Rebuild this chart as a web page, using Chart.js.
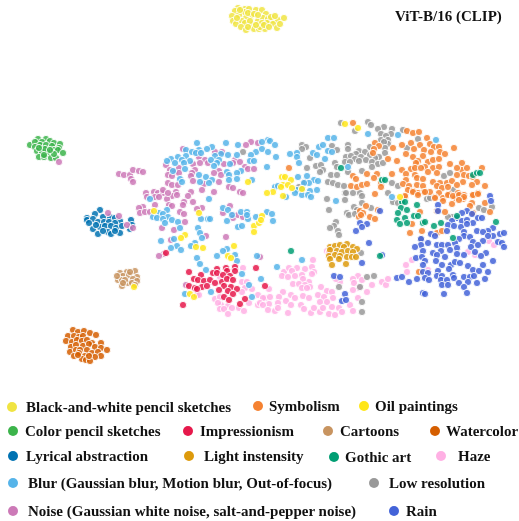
<!DOCTYPE html>
<html>
<head>
<meta charset="utf-8">
<script src="https://cdn.jsdelivr.net/npm/chart.js@4"></script>
<style>
  html, body { margin: 0; padding: 0; background: #fff; }
  #wrap { position: relative; width: 519px; height: 521px; overflow: hidden; font-family: "Liberation Serif", serif; font-weight: bold; color: #111; }
  #chart { position: absolute; left: 0; top: 0; }
  .txt { position: absolute; white-space: nowrap; font-size: 15px; line-height: 16px; }
  .dot { position: absolute; width: 10px; height: 10px; border-radius: 50%; }
  #title { position: absolute; left: 395px; top: 8px; font-size: 15px; line-height: 16px; white-space: nowrap; }
</style>
</head>
<body>
<div id="wrap">
  <canvas id="chart" width="519" height="521"></canvas>
  <div id="title">ViT-B/16 (CLIP)</div>
</div>
<script>
const titleText = "ViT-B/16 (CLIP)"

const bwPencil = [[238,8],[245,9],[249,9],[235,11],[244,12],[256,10],[232,16],[239,15],[251,16],[246,18],[258,21],[233,21],[236,24],[242,21],[252,25],[245,23],[241,27],[246,30],[254,29],[259,29],[262,10],[266,14],[263,18],[268,19],[273,20],[278,20],[284,18],[267,23],[273,24],[277,28],[265,29],[260,27],[280,24],[262,23],[240,10],[237,18],[248,13],[254,14],[258,15],[250,21],[256,25],[271,17],[275,16],[264,25],[269,27],[248,27]]
const colorPencil = [[38,139],[46,139],[50,141],[54,143],[60,144],[30,145],[35,142],[42,142],[40,145],[46,145],[52,146],[59,148],[35,147],[37,151],[42,152],[48,152],[54,150],[58,150],[63,153],[39,157],[44,157],[51,158],[56,158],[54,154],[45,149],[50,150],[39,148],[44,155]]
const lyrical = [[100,210],[95,214],[87,218],[87,220],[93,219],[103,217],[110,217],[115,218],[120,221],[131,220],[89,223],[98,222],[104,222],[109,222],[115,223],[100,227],[93,229],[105,226],[111,226],[116,228],[108,232],[98,234],[111,234],[120,233],[115,231],[132,225],[130,229],[103,231],[96,225],[122,226]]
const cartoons = [[135,271],[127,272],[120,273],[123,276],[129,275],[137,277],[118,280],[122,280],[133,279],[137,281],[128,283],[122,286],[117,276],[125,280],[132,283],[135,285],[123,283],[130,272]]
const watercolor = [[73,330],[78,332],[84,331],[90,333],[96,335],[68,336],[74,336],[79,337],[83,336],[66,341],[72,342],[77,340],[82,341],[87,340],[92,343],[101,343],[71,347],[76,345],[83,346],[89,344],[95,347],[101,348],[107,350],[70,352],[76,350],[80,350],[87,350],[92,353],[74,356],[79,353],[85,356],[98,352],[101,356],[95,357],[82,359],[86,360],[90,361],[78,355],[89,356]]
const blur = [[197,143],[226,143],[238,145],[212,147],[207,149],[186,150],[199,150],[192,152],[196,153],[201,153],[221,154],[215,156],[186,156],[178,157],[228,155],[237,155],[256,152],[251,155],[171,159],[167,161],[182,160],[190,161],[211,160],[219,160],[175,163],[184,163],[217,163],[214,166],[230,164],[250,161],[254,161],[185,169],[173,171],[227,172],[241,171],[237,173],[199,175],[206,177],[229,175],[180,179],[212,180],[229,180],[237,179],[252,180],[182,182],[200,182],[209,183],[268,140],[262,142],[270,141],[275,145],[262,149],[268,152],[276,157],[267,167],[290,154],[297,153],[297,157],[299,163],[313,153],[317,155],[319,147],[323,145],[328,138],[334,138],[328,151],[332,152],[325,159],[348,167],[368,134],[398,135],[436,140],[298,177],[307,176],[314,180],[318,181],[309,183],[304,183],[275,187],[278,186],[297,190],[302,189],[310,191],[317,190],[295,193],[302,195],[308,195],[311,197],[286,197],[392,197],[150,199],[209,199],[167,210],[223,208],[228,210],[241,212],[247,212],[159,213],[163,214],[153,217],[157,218],[168,217],[172,220],[163,219],[165,223],[178,222],[201,219],[208,219],[210,219],[227,221],[232,215],[248,219],[256,217],[247,215],[180,228],[198,228],[238,227],[242,226],[200,233],[202,238],[174,239],[161,241],[177,246],[171,248],[181,250],[195,243],[191,246],[197,258],[200,264],[227,249],[223,251],[235,255],[217,256],[237,261],[257,256],[206,270],[242,274],[249,285],[185,294],[211,292],[252,297],[261,279],[267,212],[272,214],[273,221],[336,201],[277,267],[302,260]]
const noise = [[183,149],[215,152],[222,152],[251,142],[258,143],[246,145],[199,157],[205,160],[200,163],[208,163],[224,164],[235,160],[240,162],[233,163],[166,165],[193,164],[245,167],[248,169],[254,169],[170,170],[175,172],[179,168],[179,173],[195,170],[192,173],[191,176],[219,171],[214,173],[221,175],[168,175],[172,176],[193,181],[204,184],[219,182],[119,174],[124,175],[130,175],[133,170],[139,171],[143,172],[131,179],[133,182],[59,162],[168,183],[172,185],[178,185],[229,187],[233,188],[240,192],[243,193],[202,190],[214,192],[191,192],[188,196],[146,193],[154,192],[158,193],[163,193],[163,190],[176,192],[172,196],[177,195],[167,199],[155,197],[159,197],[147,197],[168,193],[155,205],[143,207],[139,208],[140,213],[145,212],[150,212],[169,205],[172,206],[184,202],[183,205],[193,202],[202,208],[197,209],[180,212],[184,214],[230,206],[223,213],[233,215],[233,218],[238,215],[243,217],[108,213],[119,216],[127,225],[133,228],[185,222],[174,230],[162,228],[226,237],[171,240],[206,236],[164,254],[159,256],[186,285],[197,295],[260,257]]
const symbolism = [[353,123],[407,131],[413,133],[419,132],[427,138],[375,143],[379,146],[374,149],[373,153],[393,148],[402,145],[411,143],[420,145],[430,144],[434,147],[439,147],[454,148],[414,149],[424,150],[406,154],[431,152],[440,152],[445,154],[413,157],[423,156],[388,159],[397,161],[418,161],[428,162],[433,160],[439,159],[416,163],[425,167],[433,168],[439,167],[450,164],[462,163],[289,168],[402,170],[411,169],[415,168],[421,168],[406,174],[415,175],[428,172],[437,173],[462,170],[457,168],[467,168],[482,168],[353,176],[367,174],[377,174],[392,174],[356,179],[374,178],[457,175],[464,175],[469,176],[406,180],[417,178],[423,179],[433,182],[440,183],[447,183],[452,181],[463,182],[473,177],[477,182],[351,186],[357,187],[362,185],[367,184],[381,183],[381,187],[403,184],[409,186],[417,185],[423,186],[437,186],[442,188],[448,187],[457,185],[472,185],[485,186],[408,190],[413,191],[418,193],[424,192],[430,192],[439,193],[449,194],[458,193],[464,195],[473,195],[478,193],[375,194],[405,197],[435,197],[443,198],[455,198],[463,199],[405,196],[413,192],[425,192],[418,195],[435,198],[443,201],[448,195],[453,196],[459,195],[464,197],[459,200],[473,195],[478,194],[452,204],[472,203],[470,206],[485,203],[490,212],[473,213],[445,212],[437,211],[420,212],[366,206],[378,210],[360,211],[363,213],[359,217],[370,217],[375,219],[361,215],[412,224],[410,233],[422,231],[437,233],[442,231],[419,272]]
const oilPaintings = [[154,211],[199,213],[185,235],[181,238],[196,247],[203,248],[234,246],[228,256],[231,258],[254,226],[254,232],[259,223],[134,287],[190,294],[194,297],[248,182],[262,216],[261,220],[345,124],[358,128],[282,177],[285,177],[291,180],[283,185],[288,185],[281,187],[292,188],[273,192],[267,193],[302,189],[283,196],[400,197]]
const impressionism = [[189,272],[217,269],[226,268],[235,267],[227,271],[235,271],[213,273],[217,273],[223,275],[201,275],[230,276],[194,279],[198,280],[204,281],[210,280],[215,283],[222,282],[227,279],[233,280],[231,287],[224,286],[189,286],[195,288],[202,287],[207,286],[197,289],[219,290],[228,291],[237,289],[233,294],[224,297],[229,300],[245,299],[240,304],[183,305],[256,268],[265,286],[166,253]]
const lightIntensity = [[330,247],[335,246],[340,245],[347,244],[344,247],[353,247],[357,249],[330,250],[337,251],[342,252],[348,251],[353,252],[329,256],[335,255],[340,256],[347,257],[352,257],[356,257],[330,259],[339,259],[332,265],[346,264]]
const gothicArt = [[402,202],[405,202],[401,208],[407,210],[398,213],[405,218],[397,220],[400,224],[407,223],[414,216],[417,205],[418,216],[423,223],[425,222],[434,226],[441,223],[457,216],[453,238],[496,222],[291,251],[380,256],[341,168],[382,180],[385,180],[473,175],[477,173],[480,173]]
const haze = [[243,268],[220,277],[242,282],[247,282],[245,288],[252,289],[242,292],[258,295],[215,299],[220,297],[221,305],[218,303],[228,306],[220,309],[224,309],[232,308],[228,314],[239,308],[244,311],[249,303],[258,305],[199,295],[313,260],[284,272],[289,268],[297,268],[292,271],[305,269],[312,267],[314,272],[282,276],[288,277],[295,276],[302,275],[312,274],[309,282],[303,279],[293,284],[299,284],[305,285],[310,287],[302,288],[307,288],[283,292],[279,297],[291,295],[295,298],[286,301],[278,303],[291,305],[303,296],[309,298],[301,305],[304,309],[311,313],[314,308],[321,287],[318,295],[327,291],[332,292],[324,297],[333,298],[320,302],[327,302],[320,312],[323,308],[332,307],[339,308],[329,314],[335,315],[342,312],[288,313],[275,311],[269,304],[278,308],[265,298],[270,297],[263,298],[260,303],[263,305],[268,310],[358,276],[353,279],[354,283],[362,280],[372,285],[359,288],[353,290],[367,292],[350,305],[358,298],[353,311],[340,282],[336,279],[382,282],[386,285],[388,279],[407,272],[406,265],[412,260],[269,289],[327,251],[329,252],[428,270],[489,241],[494,245],[468,252],[475,255]]
const lowResolution = [[341,123],[368,122],[371,125],[355,131],[384,127],[378,129],[392,129],[403,130],[381,134],[391,134],[386,136],[381,140],[388,140],[388,144],[384,142],[370,147],[348,145],[348,149],[302,145],[306,147],[302,149],[332,146],[337,150],[359,151],[365,152],[356,154],[361,157],[346,157],[351,156],[385,148],[385,153],[379,157],[375,158],[370,155],[355,159],[359,161],[366,160],[372,162],[378,164],[383,163],[345,162],[350,162],[307,168],[316,166],[321,165],[323,170],[320,172],[310,158],[335,163],[337,167],[362,171],[372,167],[331,175],[337,175],[328,182],[333,183],[338,185],[348,172],[344,186],[345,193],[353,193],[360,193],[392,183],[398,186],[305,182],[299,187],[388,193],[418,139],[444,176],[450,173],[453,190],[407,148],[243,152],[327,199],[329,210],[346,193],[362,196],[345,200],[362,203],[354,207],[357,210],[347,213],[349,215],[355,214],[371,208],[336,222],[334,226],[330,228],[338,231],[339,235],[361,253],[367,277],[374,276],[339,287],[360,287],[362,302],[362,312],[393,202],[398,203],[421,239],[427,199],[430,198],[479,208],[484,210],[492,207],[452,217],[448,217]]
const rain = [[490,196],[491,201],[438,205],[438,211],[467,211],[462,213],[472,214],[457,218],[478,218],[482,218],[452,221],[462,221],[467,220],[473,223],[448,225],[454,226],[461,227],[467,224],[477,231],[447,231],[464,232],[431,234],[435,236],[493,228],[488,231],[483,232],[500,234],[504,233],[493,236],[488,236],[464,236],[470,237],[459,239],[483,241],[498,242],[502,243],[504,247],[421,239],[421,245],[428,243],[415,247],[437,245],[442,245],[448,245],[455,243],[473,242],[478,245],[423,251],[433,253],[441,251],[450,250],[457,248],[471,247],[475,252],[486,253],[481,256],[416,258],[422,257],[445,257],[437,255],[457,254],[464,255],[493,261],[425,261],[436,261],[423,265],[442,265],[451,265],[455,262],[460,263],[468,266],[483,265],[473,270],[449,269],[423,272],[438,271],[479,271],[488,272],[428,273],[437,276],[442,276],[453,275],[464,277],[470,277],[474,276],[425,278],[429,280],[441,280],[447,280],[454,278],[459,283],[468,282],[477,283],[485,279],[409,282],[417,279],[397,278],[402,277],[442,285],[448,285],[464,287],[423,293],[425,294],[444,294],[467,293],[360,223],[367,224],[356,231],[362,227],[369,243],[382,255],[362,263],[334,276],[340,277],[345,294],[342,301],[346,300],[380,211]]

// first one in the list ends up on top in chart.js
const seriesLabels = ["Oil paintings", "Gothic art", "Impressionism", "Rain", "Light instensity", "Blur (Gaussian blur, Motion blur, Out-of-focus)", "Symbolism", "Low resolution", "Haze", "Noise (Gaussian white noise, salt-and-pepper noise)", "Black-and-white pencil sketches", "Color pencil sketches", "Lyrical abstraction", "Cartoons", "Watercolor"]
const seriesData = [oilPaintings, gothicArt, impressionism, rain, lightIntensity, blur, symbolism, lowResolution, haze, noise, bwPencil, colorPencil, lyrical, cartoons, watercolor]
const seriesColors = ["#ffe619", "#009e73", "#e6194b", "#4363d8", "#dd9a0c", "#56b4e9", "#f58231", "#999999", "#ffb0e4", "#cc79b7", "#f0e442", "#3cb44b", "#0072b2", "#c89460", "#d55e00"]

// legend layout: label, dot x, dot y, text x
const legendLayout = [
  ["Black-and-white pencil sketches", 12, 407, 26],
  ["Symbolism", 258, 406, 269],
  ["Oil paintings", 364, 406, 375],
  ["Color pencil sketches", 13, 431, 25],
  ["Impressionism", 188, 431, 200],
  ["Cartoons", 328, 431, 340],
  ["Watercolor", 435, 431, 446],
  ["Lyrical abstraction", 13, 456, 26],
  ["Light instensity", 189, 456, 204],
  ["Gothic art", 334, 457, 345],
  ["Haze", 441, 456, 458],
  ["Blur (Gaussian blur, Motion blur, Out-of-focus)", 13, 483, 28],
  ["Low resolution", 374, 483, 389],
  ["Noise (Gaussian white noise, salt-and-pepper noise)", 13, 511, 28],
  ["Rain", 394, 511, 406]
]

function toPoints(pairs) {
  return pairs.map((p) => ({ x: p[0], y: p[1] }))
}

function addLegend() {
  const wrap = document.querySelector("#wrap")
  legendLayout.forEach((row) => {
    const color = seriesColors[seriesLabels.indexOf(row[0])]
    const dot = document.createElement("div")
    dot.className = "dot"
    dot.style.left = (row[1] - 5) + "px"
    dot.style.top = (row[2] - 5) + "px"
    dot.style.background = color
    wrap.appendChild(dot)
    const label = document.createElement("div")
    label.className = "txt"
    label.style.left = row[3] + "px"
    label.style.top = (row[2] - 8) + "px"
    label.textContent = row[0]
    wrap.appendChild(label)
  })
}

function drawChart() {
  const datasets = seriesLabels.map((name, i) => ({
    label: name,
    data: toPoints(seriesData[i]),
    backgroundColor: seriesColors[i] + "d9",
    borderColor: "rgba(255, 255, 255, 0.9)",
    borderWidth: 1,
    pointRadius: 3.6
  }))
  new Chart(document.querySelector("#chart"), {
    type: "scatter",
    data: { datasets: datasets },
    options: {
      responsive: false,
      animation: false,
      layout: { padding: 0, autoPadding: false },
      scales: {
        x: { type: "linear", min: 0, max: 519, display: false },
        y: { type: "linear", min: 0, max: 521, reverse: true, display: false }
      },
      plugins: {
        legend: { display: false },
        tooltip: { enabled: false }
      }
    }
  })
}

document.querySelector("#title").textContent = titleText
addLegend()
drawChart()
</script>
</body>
</html>
